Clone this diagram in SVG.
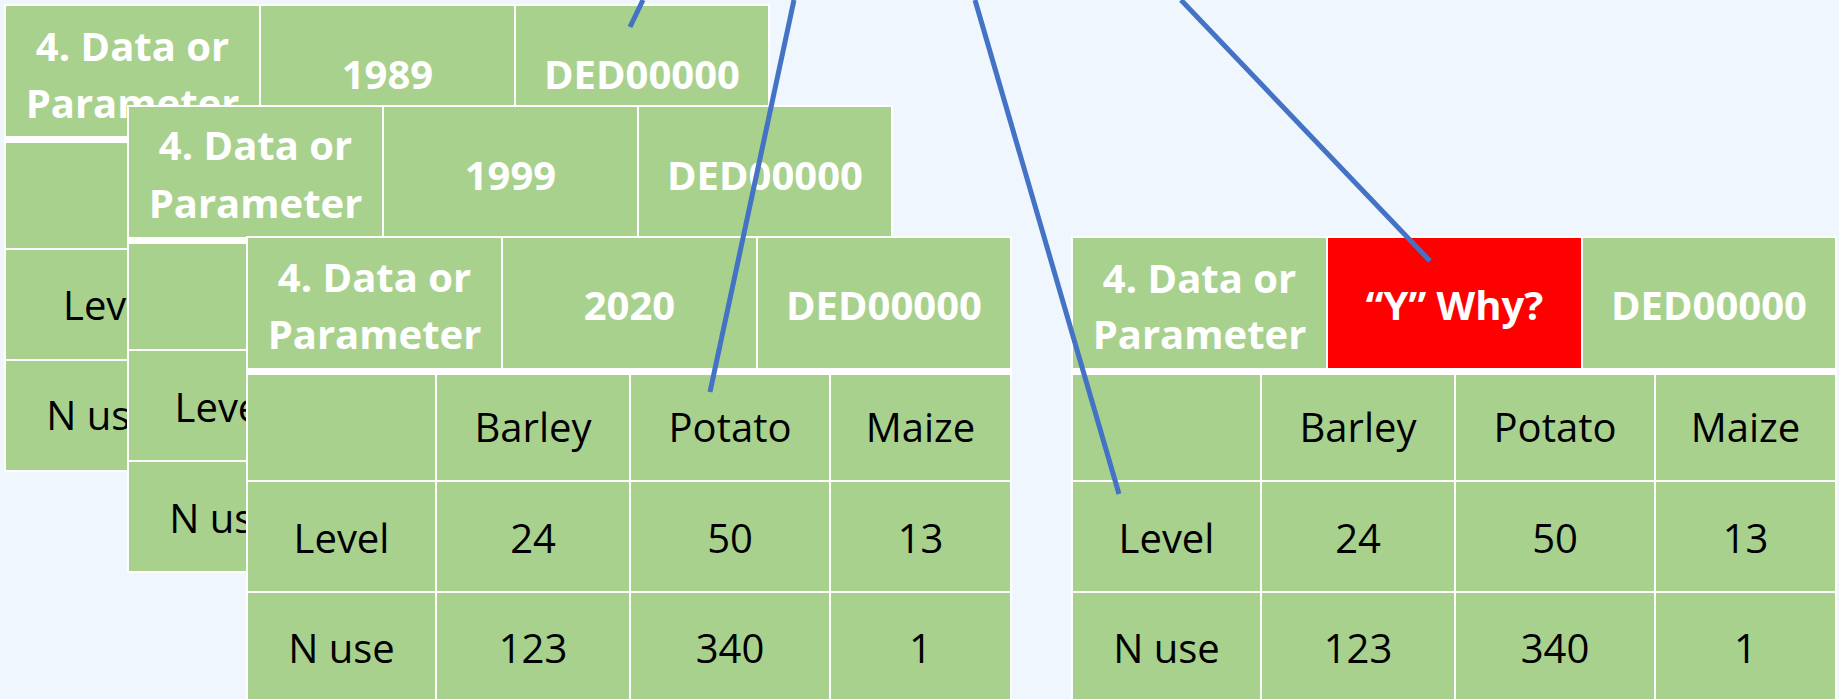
<svg xmlns="http://www.w3.org/2000/svg" xmlns:xlink="http://www.w3.org/1999/xlink" width="1839" height="699" viewBox="0 0 1839 699">
  <style>
    .page { fill: #EFF6FD; }
    .back { fill: #FFFFFF; }
    .cell { fill: #A9D18E; }
    .alert { fill: #FF0000; }
    .hd { font-family: "Open Sans", "Liberation Sans", sans-serif; font-weight: 700; font-size: 40px; fill: #FFFFFF; text-anchor: middle; }
    .dt { font-family: "Open Sans", "Liberation Sans", sans-serif; font-weight: 400; font-size: 40px; fill: #000000; text-anchor: middle; }
    .dt.start { text-anchor: start; }
    .link { stroke: #4472C4; stroke-width: 5; fill: none; }
  </style>
  <defs>
    <!-- one record card: header strip of three cells, then a 4 x 3 data grid -->
    <g id="grid">
      <rect class="back" x="-2" y="-2" width="766" height="468"/>
      <rect class="cell" x="0" y="0" width="253" height="130"/>
      <rect class="cell" x="255" y="0" width="253" height="130"/>
      <rect class="cell" x="510" y="0" width="252" height="130"/>
      <rect class="cell" x="0" y="137" width="187" height="105"/>
      <rect class="cell" x="189" y="137" width="192" height="105"/>
      <rect class="cell" x="383" y="137" width="198" height="105"/>
      <rect class="cell" x="583" y="137" width="179" height="105"/>
      <rect class="cell" x="0" y="244" width="187" height="109"/>
      <rect class="cell" x="189" y="244" width="192" height="109"/>
      <rect class="cell" x="383" y="244" width="198" height="109"/>
      <rect class="cell" x="583" y="244" width="179" height="109"/>
      <rect class="cell" x="0" y="355" width="187" height="109"/>
      <rect class="cell" x="189" y="355" width="192" height="109"/>
      <rect class="cell" x="383" y="355" width="198" height="109"/>
      <rect class="cell" x="583" y="355" width="179" height="109"/>
    </g>
  </defs>

  <rect class="page" x="0" y="0" width="1839" height="699"/>

  <!-- record 1989 (back of the stack) -->
  <g id="record-1989">
    <use xlink:href="#grid" href="#grid" x="6" y="6"/>
    <text class="hd" x="132.5" y="61">4. Data or</text>
    <text class="hd" x="132.5" y="118">Parameter</text>
    <text class="hd" x="387.5" y="89">1989</text>
    <text class="hd" x="642" y="89">DED00000</text>
    <text class="dt start" x="63" y="320">Level</text>
    <text class="dt" x="99.5" y="430">N use</text>
  </g>

  <!-- record 1999 -->
  <g id="record-1999">
    <use xlink:href="#grid" href="#grid" x="129" y="107"/>
    <text class="hd" x="255.5" y="160">4. Data or</text>
    <text class="hd" x="255.5" y="218">Parameter</text>
    <text class="hd" x="510.5" y="190">1999</text>
    <text class="hd" x="765" y="190">DED00000</text>
    <text class="dt" x="222.5" y="422">Level</text>
    <text class="dt" x="222.5" y="533">N use</text>
  </g>

  <!-- record 2020 (front of the stack) -->
  <g id="record-2020">
    <use xlink:href="#grid" href="#grid" x="248" y="238"/>
    <text class="hd" x="374.5" y="292">4. Data or</text>
    <text class="hd" x="374.5" y="349">Parameter</text>
    <text class="hd" x="629.5" y="320">2020</text>
    <text class="hd" x="884" y="320">DED00000</text>
    <text class="dt" x="533" y="442">Barley</text>
    <text class="dt" x="730" y="442">Potato</text>
    <text class="dt" x="920.5" y="442">Maize</text>
    <text class="dt" x="341.5" y="553">Level</text>
    <text class="dt" x="533" y="553">24</text>
    <text class="dt" x="730" y="553">50</text>
    <text class="dt" x="920.5" y="553">13</text>
    <text class="dt" x="341.5" y="663">N use</text>
    <text class="dt" x="533" y="663">123</text>
    <text class="dt" x="730" y="663">340</text>
    <text class="dt" x="920.5" y="663">1</text>
  </g>

  <!-- record with the flagged year field -->
  <g id="record-why">
    <use xlink:href="#grid" href="#grid" x="1073" y="238"/>
    <rect class="alert" x="1328" y="238" width="253" height="130"/>
    <text class="hd" x="1199.5" y="293">4. Data or</text>
    <text class="hd" x="1199.5" y="349">Parameter</text>
    <text class="hd" x="1454.5" y="320">“Y” Why?</text>
    <text class="hd" x="1709" y="320">DED00000</text>
    <text class="dt" x="1358" y="442">Barley</text>
    <text class="dt" x="1555" y="442">Potato</text>
    <text class="dt" x="1745.5" y="442">Maize</text>
    <text class="dt" x="1166.5" y="553">Level</text>
    <text class="dt" x="1358" y="553">24</text>
    <text class="dt" x="1555" y="553">50</text>
    <text class="dt" x="1745.5" y="553">13</text>
    <text class="dt" x="1166.5" y="663">N use</text>
    <text class="dt" x="1358" y="663">123</text>
    <text class="dt" x="1555" y="663">340</text>
    <text class="dt" x="1745.5" y="663">1</text>
  </g>

  <!-- pointer lines coming in from above -->
  <g id="connectors">
    <line class="link" x1="643" y1="0" x2="630" y2="27"/>
    <line class="link" x1="794" y1="0" x2="710" y2="392"/>
    <line class="link" x1="975" y1="0" x2="1119" y2="494"/>
    <line class="link" x1="1181" y1="0" x2="1430" y2="261"/>
  </g>
</svg>
